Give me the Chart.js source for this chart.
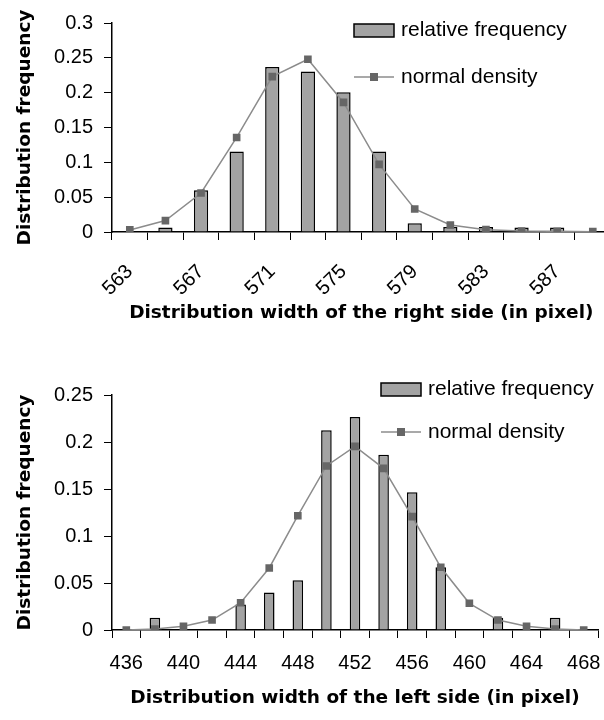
<!DOCTYPE html>
<html>
<head>
<meta charset="utf-8">
<script src="https://cdn.jsdelivr.net/npm/chart.js@4.4.1/dist/chart.umd.min.js"></script>
<style>
  html, body { margin: 0; padding: 0; background: #fff; overflow: hidden; width: 604px; height: 720px; }
  canvas { position: absolute; left: 0; }
  #rightChart { top: 0; }
  #leftChart { top: 340px; }
</style>
</head>
<body>
<canvas id="rightChart" width="616" height="340"></canvas>
<canvas id="leftChart" width="604" height="380"></canvas>
<script>
// right side: categories 563..589
const rightWidths = [563, 565, 567, 569, 571, 573, 575, 577, 579, 581, 583, 585, 587, 589];
const rightFreq = [0, 0.0066, 0.06, 0.1155, 0.237, 0.2305, 0.2005, 0.1155, 0.0126, 0.007, 0.007, 0.0066, 0.0066, 0];
const rightNormal = [0.003, 0.0164, 0.056, 0.1357, 0.223, 0.248, 0.186, 0.097, 0.033, 0.01, 0.0034, 0.0014, 0.001, 0.0005];
const rightXTicks = ["563", "567", "571", "575", "579", "583", "587"];
const rightYTicks = [0, 0.05, 0.1, 0.15, 0.2, 0.25, 0.3];

// left side: categories 436..468
const leftWidths = [436, 438, 440, 442, 444, 446, 448, 450, 452, 454, 456, 458, 460, 462, 464, 466, 468];
const leftFreq = [0, 0.0131, 0.001, 0, 0.027, 0.040, 0.053, 0.2124, 0.2266, 0.1865, 0.1465, 0.0667, 0, 0.013, 0, 0.013, 0];
const leftNormal = [0, 0.001, 0.004, 0.0106, 0.029, 0.066, 0.1216, 0.1745, 0.1954, 0.172, 0.1206, 0.0667, 0.0284, 0.0106, 0.004, 0.001, 0];
const leftXTicks = ["436", "440", "444", "448", "452", "456", "460", "464", "468"];
const leftYTicks = [0, 0.05, 0.1, 0.15, 0.2, 0.25];

const tickFont = { family: "'Liberation Sans', Arial, sans-serif", size: 20 };
const titleFont = { family: "'DejaVu Sans', Verdana, sans-serif", size: 18.5, weight: "bold" };

// legend drawn at fixed spots, styles taken from the datasets
function legendPlugin(pos) {
  return {
    id: "boxLegend",
    afterDraw(chart) {
      const ctx = chart.ctx;
      const [bar, line] = chart.data.datasets;
      ctx.save();
      ctx.font = "21px 'Liberation Sans', Arial, sans-serif";
      ctx.textBaseline = "middle";
      // bar entry
      ctx.fillStyle = bar.backgroundColor;
      ctx.fillRect(pos.x, pos.y1 - 6, 40, 13);
      ctx.strokeStyle = bar.borderColor;
      ctx.lineWidth = 1.5;
      ctx.strokeRect(pos.x, pos.y1 - 6, 40, 13);
      ctx.fillStyle = "#000";
      ctx.fillText(bar.label, pos.x + 47, pos.y1);
      // line entry
      ctx.strokeStyle = line.borderColor;
      ctx.lineWidth = line.borderWidth;
      ctx.beginPath();
      ctx.moveTo(pos.x, pos.y2);
      ctx.lineTo(pos.x + 40, pos.y2);
      ctx.stroke();
      ctx.fillStyle = line.pointBackgroundColor;
      ctx.fillRect(pos.x + 20 - 4, pos.y2 - 4, 8, 8);
      ctx.fillStyle = "#000";
      ctx.fillText(line.label, pos.x + 47, pos.y2);
      ctx.restore();
    }
  };
}

function makeChart(id, cats, freq, normal, xTicks, yTicks, opts) {
  return new Chart(document.getElementById(id), {
    type: "bar",
    data: {
      labels: cats.map(String),
      datasets: [
        {
          type: "bar",
          label: "relative frequency",
          data: freq,
          backgroundColor: "#a3a3a3",
          borderColor: "#000",
          borderWidth: 1.5,
          categoryPercentage: 1,
          barPercentage: opts.barPct,
          order: 1
        },
        {
          type: "line",
          label: "normal density",
          data: normal,
          borderColor: "#8c8c8c",
          borderWidth: 1.5,
          pointStyle: "rect",
          pointRadius: 5.4,
          pointBorderWidth: 0,
          pointBackgroundColor: "#666",
          tension: 0,
          order: 0
        }
      ]
    },
    options: {
      responsive: false,
      animation: false,
      layout: { padding: opts.padding },
      plugins: { legend: { display: false }, tooltip: { enabled: false } },
      scales: {
        x: {
          grid: { display: true, drawOnChartArea: false, drawTicks: true, tickLength: 8, color: "#000", offset: true },
          border: { display: true, color: "#000", width: 1.5 },
          ticks: {
            autoSkip: false,
            minRotation: opts.rot,
            maxRotation: opts.rot,
            padding: opts.xPad,
            color: "#000",
            font: tickFont,
            callback: (v, i) => xTicks.includes(String(cats[i])) ? String(cats[i]) : ""
          },
          title: { display: true, text: opts.xTitle, color: "#000", font: titleFont, padding: 0 },
          afterFit: s => { s.height = opts.xHeight; s.paddingLeft = 0; s.paddingRight = 0; }
        },
        y: {
          min: 0,
          max: yTicks[yTicks.length - 1],
          afterBuildTicks: s => { s.ticks = yTicks.map(v => ({ value: v })); },
          grid: { display: true, drawOnChartArea: false, drawTicks: true, tickLength: 8, color: "#000" },
          border: { display: true, color: "#000", width: 1.5 },
          ticks: {
            padding: 11,
            color: "#000",
            font: tickFont,
            callback: v => String(+v.toFixed(2))
          },
          title: { display: true, text: "Distribution frequency", color: "#000", font: titleFont, padding: 0 },
          afterFit: s => { s.width = 98; }
        }
      }
    },
    plugins: [legendPlugin(opts.legend)]
  });
}

makeChart("rightChart", rightWidths, rightFreq, rightNormal, rightXTicks, rightYTicks, {
  barPct: 0.4,
  rot: 45,
  xPad: 20,
  xTitle: "Distribution width of the right side (in pixel)",
  xHeight: 92,
  padding: { left: 14, top: 19, right: 4, bottom: 16 },
  legend: { x: 354, y1: 30, y2: 77 }
});

makeChart("leftChart", leftWidths, leftFreq, leftNormal, leftXTicks, leftYTicks, {
  barPct: 0.37,
  rot: 0,
  xPad: 13,
  xTitle: "Distribution width of the left side (in pixel)",
  xHeight: 79,
  padding: { left: 14, top: 55, right: 6, bottom: 11 },
  legend: { x: 381, y1: 49, y2: 92 }
});
</script>
</body>
</html>
